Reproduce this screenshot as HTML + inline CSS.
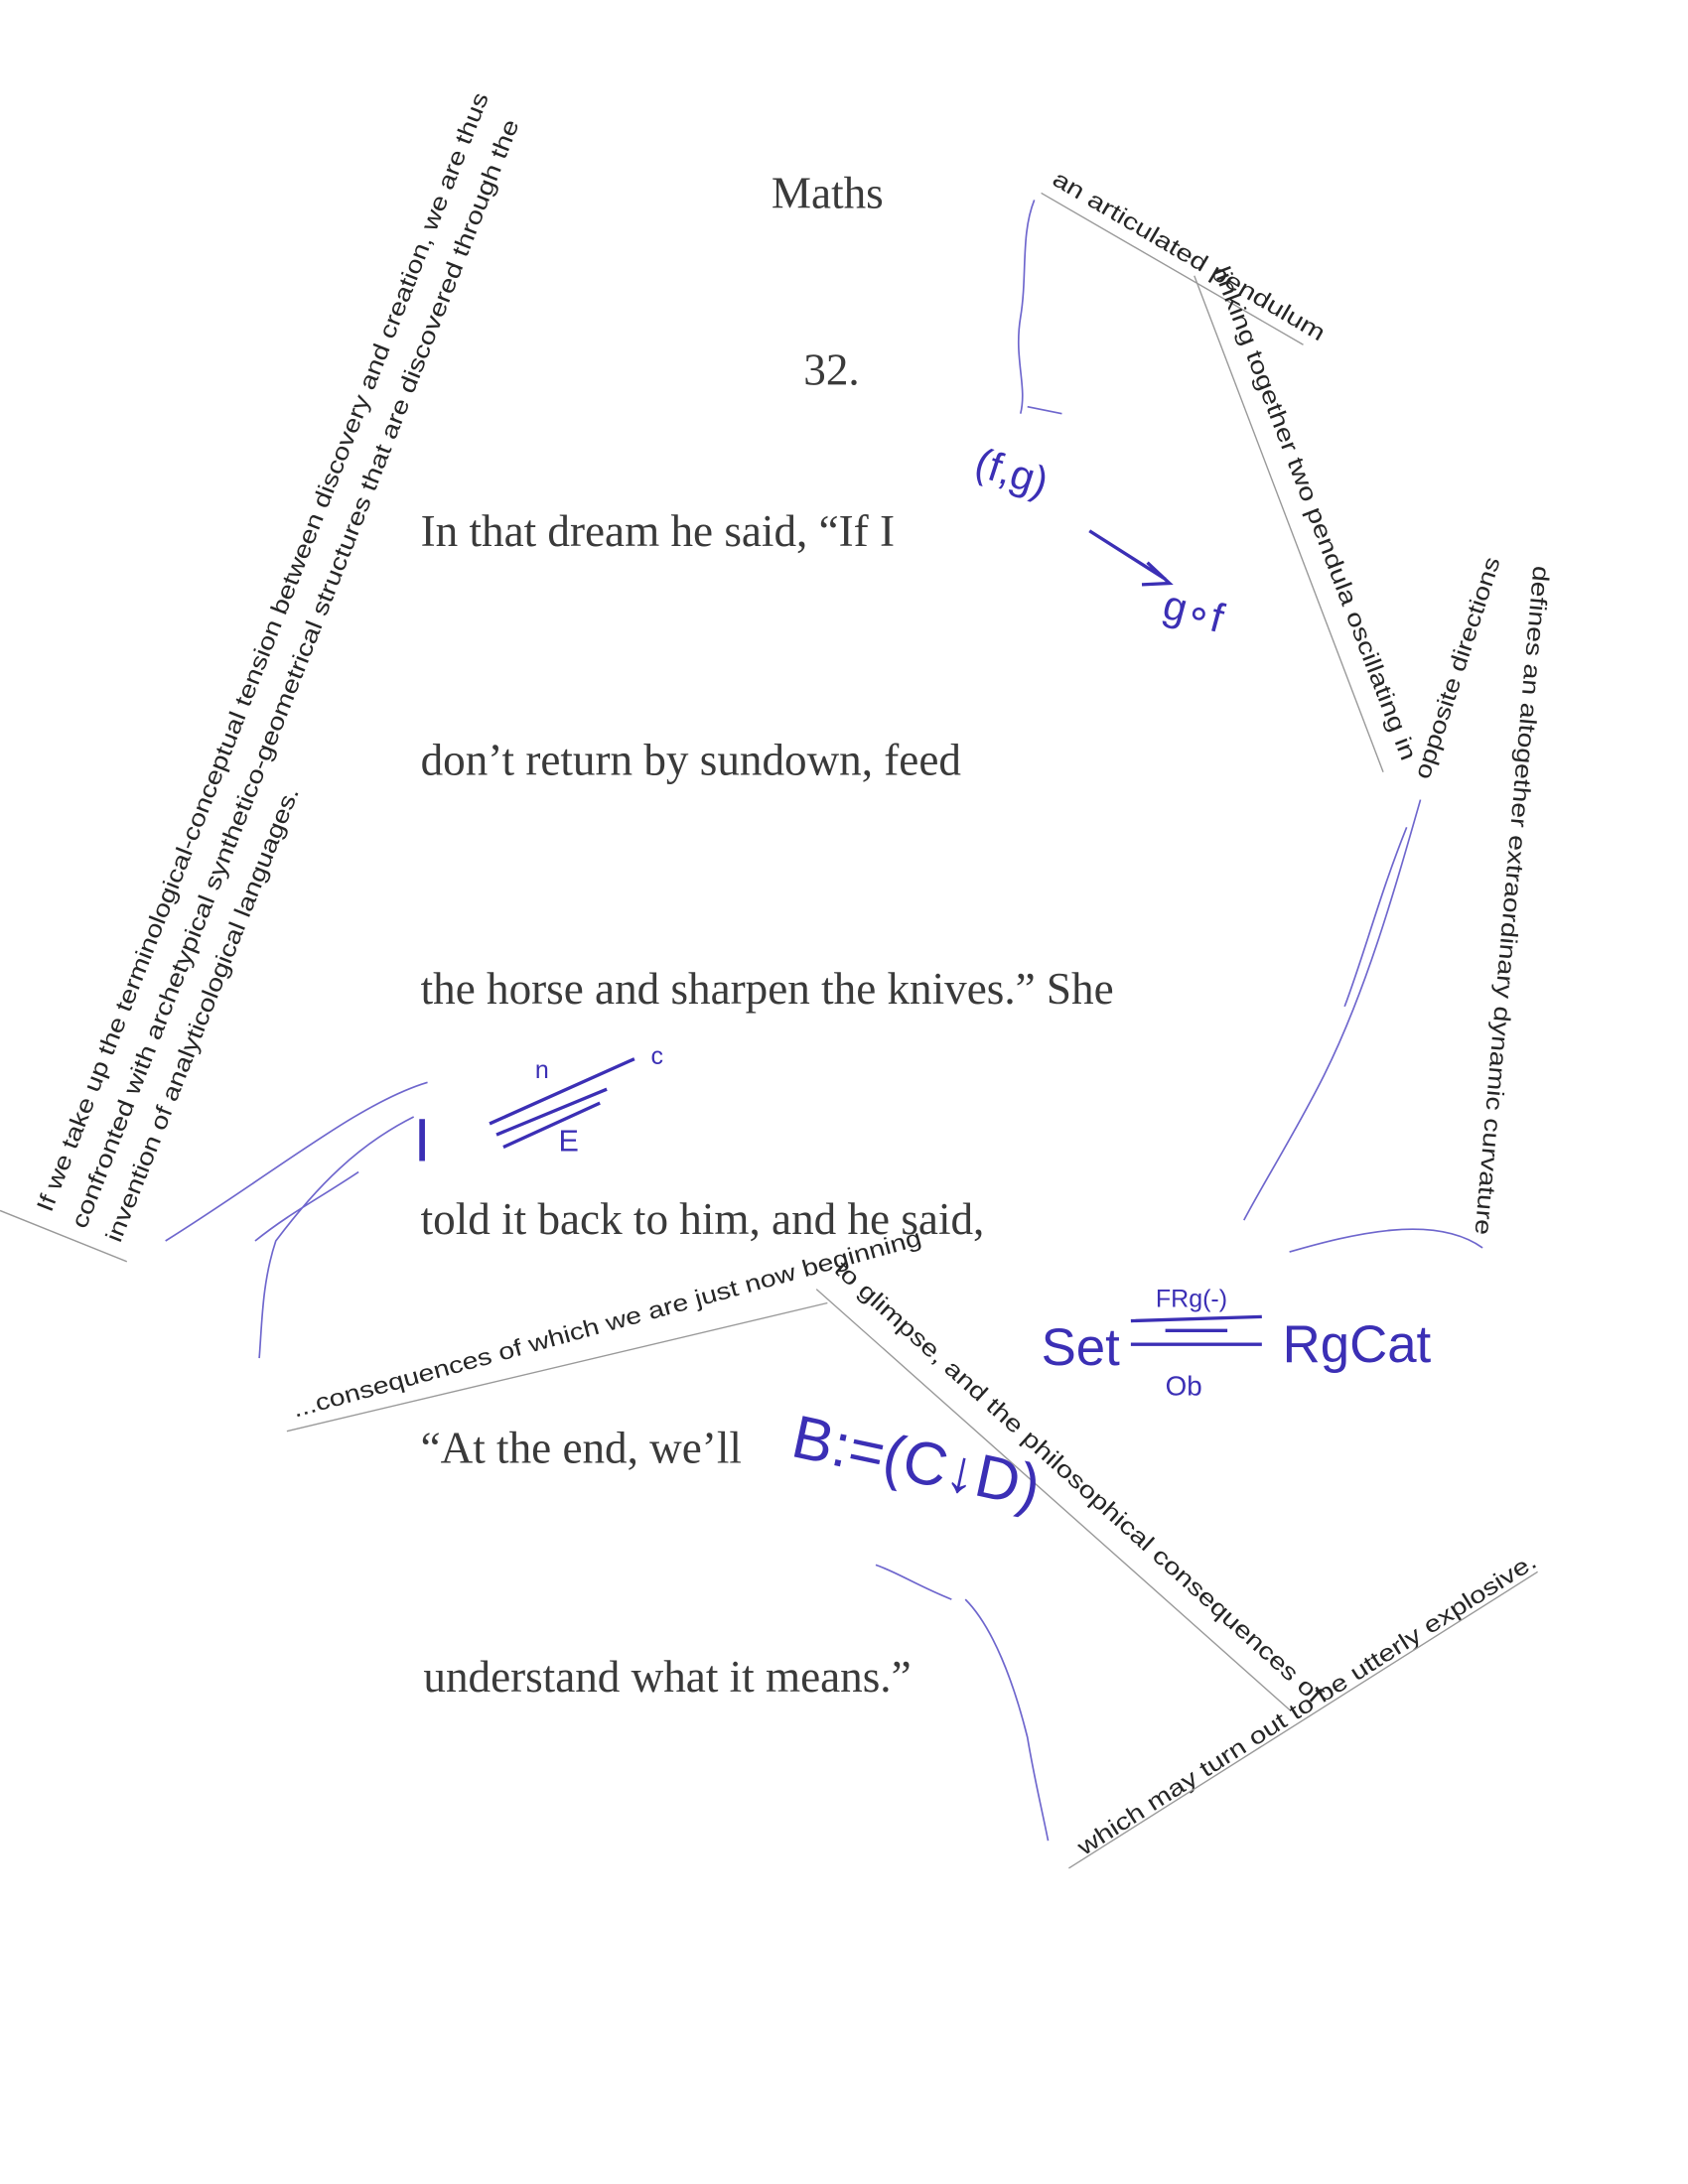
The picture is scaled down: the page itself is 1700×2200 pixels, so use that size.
<!DOCTYPE html>
<html><head><meta charset="utf-8"><style>
html,body{margin:0;padding:0;background:#fff;}
svg{display:block}
.s{font-family:"Liberation Serif",serif;fill:#3a3a3a;font-size:32.5px}
.t{font-family:"Liberation Sans",sans-serif;fill:#262626;font-size:17px}
.h{font-family:"Liberation Sans",sans-serif;fill:#3b2fb5}
.ln{stroke:#999;stroke-width:1;fill:none}
.b{stroke:#4a40c0;stroke-width:1.2;fill:none;opacity:.8}
.bb{stroke:#3b2fb5;stroke-width:2.4;fill:none}
</style></head><body>
<svg width="1700" height="2200" viewBox="0 0 1224 1584" xmlns="http://www.w3.org/2000/svg">
<rect width="1224" height="1584" fill="#fff"/>
<g transform="translate(0,6)">
<text class="s" x="600" y="145" text-anchor="middle" font-size="36">Maths</text>
<text class="s" x="603" y="273" text-anchor="middle">32.</text>
<text class="s" x="305" y="390">In that dream he said, “If I</text>
<text class="s" x="305" y="556">don’t return by sundown, feed</text>
<text class="s" x="305" y="722">the horse and sharpen the knives.”  She</text>
<text class="s" x="305" y="889">told it back to him, and he said,</text>
<text class="s" x="305" y="1055">“At the end, we’ll</text>
<text class="s" x="307" y="1221">understand what it means.”</text>
</g>

<g transform="translate(37,880) rotate(-68.6)"><text class="t" textLength="870" lengthAdjust="spacingAndGlyphs">If we take up the terminological-conceptual tension between discovery and creation, we are thus</text></g>
<g transform="translate(62,892) rotate(-68.6)"><text class="t" textLength="862" lengthAdjust="spacingAndGlyphs">confronted with archetypical synthetico-geometrical structures that are discovered through the</text></g>
<g transform="translate(87,902) rotate(-68.4)"><text class="t" textLength="353" lengthAdjust="spacingAndGlyphs">invention of analyticological languages.</text></g>
<path class="ln" d="M0 878 L92 915"/>

<g transform="translate(762,133) rotate(30.5)"><text class="t" textLength="226" lengthAdjust="spacingAndGlyphs">an articulated pendulum</text></g>
<path class="ln" d="M755 140 L945 250"/>
<g transform="translate(880,196) rotate(69)"><text class="t" textLength="382" lengthAdjust="spacingAndGlyphs">linking together two pendula oscillating in</text></g>
<path class="ln" d="M866 200 L1003 560"/>
<g transform="translate(1036,566) rotate(-72)"><text class="t" textLength="168" lengthAdjust="spacingAndGlyphs">opposite directions</text></g>
<g transform="translate(1112,410) rotate(95)"><text class="t" textLength="487" lengthAdjust="spacingAndGlyphs">defines an altogether extraordinary dynamic curvature</text></g>

<g transform="translate(214,1028) rotate(-15.4)"><text class="t" textLength="472" lengthAdjust="spacingAndGlyphs">...consequences of which we are just now beginning</text></g>
<path class="ln" d="M208 1038 L600 945"/>
<g transform="translate(604,922) rotate(42)"><text class="t" textLength="469" lengthAdjust="spacingAndGlyphs">to glimpse, and the philosophical consequences of</text></g>
<path class="ln" d="M592 935 L935 1240"/>
<g transform="translate(786,1346) rotate(-32.6)"><text class="t" textLength="391" lengthAdjust="spacingAndGlyphs">which may turn out to be utterly explosive.</text></g>
<path class="ln" d="M775 1355 L1115 1140"/>

<path class="b" d="M750 145 C740 170 745 200 740 230 C735 260 745 280 740 300 M745 295 L770 300"/>
<path class="b" d="M1030 580 C1010 650 990 720 960 780 C940 820 915 860 902 885"/>
<path class="b" d="M1020 600 C1000 650 990 690 975 730"/>
<path class="b" d="M935 908 C980 895 1040 880 1075 905"/>
<path class="b" d="M310 785 C260 800 200 850 120 900 M300 810 C260 830 230 860 200 900 C190 930 190 960 188 985 M260 850 C230 870 210 880 185 900"/>
<path class="b" d="M700 1160 C720 1180 735 1220 745 1260 C750 1290 755 1310 760 1335"/>
<path class="b" d="M635 1135 C650 1140 665 1150 690 1160"/>

<text class="h" x="705" y="355" font-size="30" transform="rotate(18 740 350)">(f,g)</text>
<path class="bb" d="M790 385 L845 420 M832 408 L848 423 L828 424"/>
<text class="h" x="842" y="455" font-size="30" transform="rotate(15 870 450)">g∘f</text>
<text class="h" x="300" y="842" font-size="44">I</text>
<path class="bb" d="M355 815 L460 768 M360 823 L440 790 M365 832 L435 800"/>
<text class="h" x="388" y="782" font-size="18">n</text>
<text class="h" x="472" y="772" font-size="18">c</text>
<text class="h" x="405" y="835" font-size="22">E</text>
<text class="h" x="755" y="990" font-size="38">Set</text>
<text class="h" x="838" y="948" font-size="18">FRg(-)</text>
<path class="bb" d="M820 958 L915 955 M820 975 L915 975 M845 965 L890 965"/>
<text class="h" x="845" y="1012" font-size="20">Ob</text>
<text class="h" x="930" y="988" font-size="38">RgCat</text>
<text class="h" x="565" y="1075" font-size="44" transform="rotate(12 660 1100)">B:=(C↓D)</text>
</svg>
</body></html>
